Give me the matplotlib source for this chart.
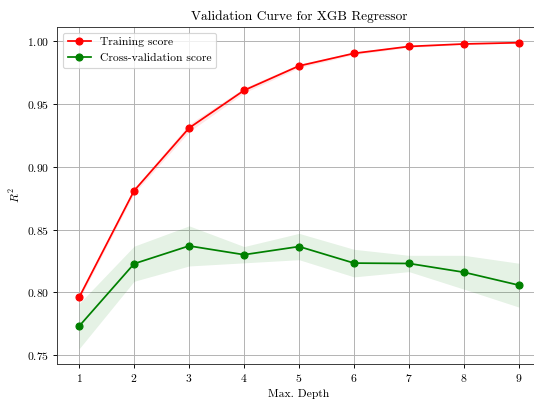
import numpy as np
import matplotlib
matplotlib.use('Agg')
import matplotlib.pyplot as plt

plt.rcParams['font.family'] = 'serif'
plt.rcParams['font.serif'] = ['cmr10']
plt.rcParams['mathtext.fontset'] = 'cm'
plt.rcParams['axes.formatter.use_mathtext'] = True

max_depth = [1, 2, 3, 4, 5, 6, 7, 8, 9]
train_mean = [0.796, 0.881, 0.931, 0.961, 0.9805, 0.9905, 0.996, 0.998, 0.999]
train_std = [0.002, 0.002, 0.003, 0.002, 0.0015, 0.001, 0.0008, 0.0005, 0.0004]
cv_mean = [0.773, 0.8228, 0.837, 0.830, 0.8365, 0.8233, 0.823, 0.816, 0.8057]
cv_std = [0.018, 0.014, 0.016, 0.0065, 0.0105, 0.011, 0.0065, 0.0135, 0.0175]

train_mean = np.array(train_mean)
train_std = np.array(train_std)
cv_mean = np.array(cv_mean)
cv_std = np.array(cv_std)

dpi = 83.5
fig = plt.figure(figsize=(534 / dpi, 401 / dpi), dpi=dpi)
# right edge of the axes runs past the canvas, as in the cropped original
ax = fig.add_axes([0.107, 0.092, 0.906, 0.841])

ax.plot(max_depth, train_mean, 'o-', color='red', label='Training score')
ax.fill_between(max_depth, train_mean - train_std, train_mean + train_std,
                color='red', alpha=0.1, lw=0)
ax.plot(max_depth, cv_mean, 'o-', color='green', label='Cross-validation score')
ax.fill_between(max_depth, cv_mean - cv_std, cv_mean + cv_std,
                color='green', alpha=0.1, lw=0)

ax.set_title('Validation Curve for XGB Regressor', fontsize=11.5)
ax.set_xlabel('Max. Depth')
ax.set_ylabel('$R^2$')
ax.set_xticks(max_depth)
ax.set_yticks([0.75, 0.80, 0.85, 0.90, 0.95, 1.00])
ax.grid(True, color='#b0b0b0', lw=0.8)
ax.set_axisbelow(True)
for s in ax.spines.values():
    s.set_color('#333333')
ax.legend(loc='upper left')

fig.savefig('out.png', dpi=dpi)
